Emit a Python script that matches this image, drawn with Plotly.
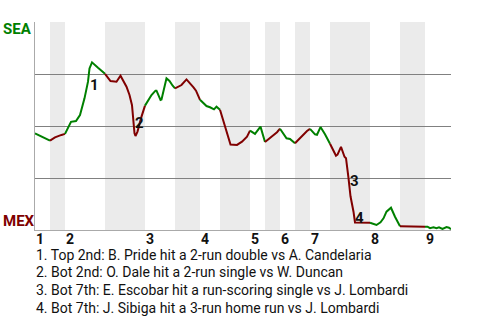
import plotly.graph_objects as go

# Half-inning lengths (in plays), top/bottom alternating
half_len = [3, 3, 8, 8, 6, 5, 4, 6, 3, 3, 3, 3, 4, 8, 6, 5, 5]
inning_labels = ["1", "2", "3", "4", "5", "6", "7", "8", "9"]

# SEA win probability (%) by play index
play_x = [0, 1, 2, 3, 4, 5.3, 6, 7.2, 8.2, 9, 9.9, 10.6, 10.9, 11.4, 12.6, 14,
          15.1, 16.3, 17.1, 18.3, 18.9, 19.4, 19.9, 20.1, 20.5, 21.3, 22,
          23.3, 24.1, 24.3, 25.1, 25.3, 26.3, 26.9, 27.5, 28,
          29.3, 30.3, 31.1, 31.7, 32.2, 32.7, 33,
          34.3, 35, 35.8, 36.3, 37,
          37.3, 37.9, 39.1, 40.4, 41.4, 42.4, 43,
          44, 45.1, 46, 47.4, 48.4, 49, 50.3, 51, 52, 53.4, 54.4, 55,
          56, 56.4, 57.1, 58, 59,
          60.2, 60.5, 61.2, 61.9, 62.2, 62.7, 63.1, 63.7, 64, 67,
          67.7, 68.3, 69.1, 69.7, 70.3, 71.2, 72, 73,
          78, 78.5, 79, 79.7, 80.3, 80.8, 81.5, 82.3, 82.8, 83.2]
sea_wp = [46.5, 45.3, 44.2, 43.0, 44.5, 45.7, 46.2, 52.0, 52.4, 55.3, 63.3, 71.3, 77.7, 80.6, 78.0, 75.1,
          71.6, 71.3, 74.2, 68.9, 64.9, 60.0, 46.5, 45.2, 47.3, 54.5, 59.8,
          64.9, 67.0, 67.0, 62.5, 62.7, 72.9, 71.7, 69.5, 68.1,
          69.7, 72.4, 70.5, 68.6, 67.0, 64.1, 62.6,
          59.6, 59.0, 58.0, 59.3, 57.8,
          55.3, 51.3, 41.1, 40.9, 42.5, 44.9, 47.8,
          46.2, 49.7, 42.3, 44.9, 47.0, 48.7, 44.1, 43.8, 41.7, 45.3, 47.6, 48.6,
          46.0, 45.8, 49.5, 46.0, 41.5,
          35.7, 36.2, 40.0, 35.2, 34.5, 25.0, 16.2, 8.8, 3.6, 3.5,
          2.9, 2.4, 3.7, 5.6, 8.8, 10.7, 6.4, 1.8,
          1.6, 1.6, 0.9, 1.3, 0.9, 1.3, 0.5, 1.4, 1.1, 0.4]

# Key plays: marker label, play index, win prob position
event_ids = ["1", "2", "3", "4"]
event_x = [11.8, 20.8, 63.8, 64.8]
event_y = [69.7, 51.4, 23.6, 5.8]
event_text = [
    "1. Top 2nd: B. Pride hit a 2-run double vs A. Candelaria",
    "2. Bot 2nd: O. Dale hit a 2-run single vs W. Duncan",
    "3. Bot 7th: E. Escobar hit a run-scoring single vs J. Lombardi",
    "4. Bot 7th: J. Sibiga hit a 3-run home run vs J. Lombardi",
]

GREEN = "#008000"
RED = "#800000"
FONT = "Roboto"
X_MAX = 83.2

bounds = [0]
for n in half_len:
    bounds.append(bounds[-1] + n)

fig = go.Figure()
shapes = []
for i in range(len(half_len)):
    a, b = bounds[i], bounds[i + 1]
    last = i == len(half_len) - 1
    xs, ys = [], []
    for x, y in zip(play_x, sea_wp):
        if x >= a and (x <= b or last):
            xs.append(x)
            ys.append(y)
    color = GREEN if i % 2 == 0 else RED
    fig.add_trace(go.Scatter(x=xs, y=ys, mode="lines",
                             line=dict(color=color, width=2), hoverinfo="skip"))
    if i % 2 == 1:
        shapes.append(dict(type="rect", xref="x", yref="paper", x0=a, x1=b, y0=0, y1=1,
                           fillcolor="#ebebeb", line=dict(width=0), layer="below"))

annotations = []
for k, lab in enumerate(inning_labels):
    annotations.append(dict(x=bounds[2 * k], y=0, xref="x", yref="paper", text="<b>%s</b>" % lab,
                            showarrow=False, xanchor="left", yanchor="middle", yshift=-8.5,
                            font=dict(family=FONT, size=14, color="#111"), xshift=-1))
for lab, x, y in zip(event_ids, event_x, event_y):
    annotations.append(dict(x=x, y=y, xref="x", yref="y", text="<b>%s</b>" % lab,
                            showarrow=False, xanchor="center", yanchor="middle",
                            font=dict(family=FONT, size=15, color="#111")))
for k, t in enumerate(event_text):
    annotations.append(dict(x=0, y=0, xref="paper", yref="paper", text=t, showarrow=False,
                            xanchor="left", yanchor="middle", yshift=-24.5 - 17.7 * k, xshift=-1,
                            font=dict(family=FONT, size=14, color="#111")))
annotations.append(dict(x=0, y=1, xref="paper", yref="paper", text="<b>SEA</b>", showarrow=False,
                        xanchor="left", yanchor="middle", xshift=-34, yshift=-6.5,
                        font=dict(family=FONT, size=15, color=GREEN)))
annotations.append(dict(x=0, y=0, xref="paper", yref="paper", text="<b>MEX</b>", showarrow=False,
                        xanchor="left", yanchor="middle", xshift=-34, yshift=9.5,
                        font=dict(family=FONT, size=15, color=RED)))

fig.update_layout(
    width=480, height=320,
    margin=dict(l=35, r=29, t=22, b=90),
    paper_bgcolor="white", plot_bgcolor="white",
    showlegend=False, hovermode=False,
    shapes=shapes, annotations=annotations,
    xaxis=dict(range=[0, X_MAX], showgrid=False, zeroline=False, showticklabels=False,
               showline=True, linecolor="#aaaaaa", linewidth=1, ticks=""),
    yaxis=dict(range=[0, 100], tickvals=[25, 50, 75, 100], showgrid=True, gridcolor="#808080",
               gridwidth=1, zeroline=False, showticklabels=False,
               showline=True, linecolor="#aaaaaa", linewidth=1, ticks=""),
)

fig.write_html("out.html")
